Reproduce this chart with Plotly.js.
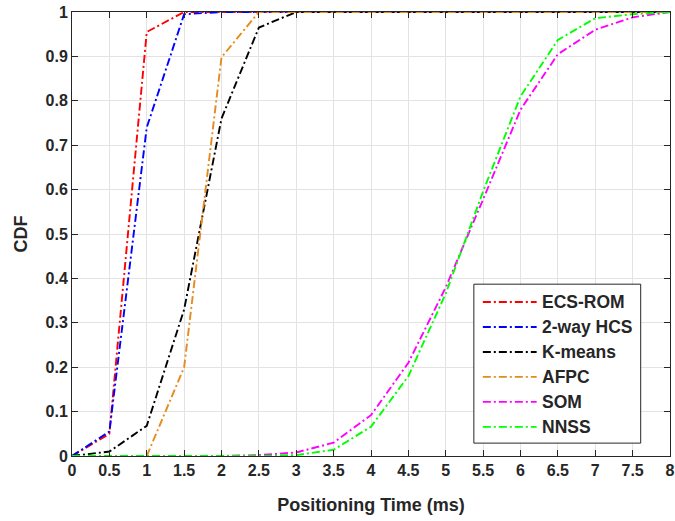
<!DOCTYPE html>
<html>
<head>
<meta charset="utf-8">
<script src="https://cdn.plot.ly/plotly-3.0.1.min.js"></script>
<style>
  html, body { margin: 0; padding: 0; background: #fff; }
  #chart { width: 675px; height: 521px; }
</style>
</head>
<body>
<div id="chart"></div>
<script>
// Positioning time samples (ms) and CDF values for each method
const timeCoarse = [0, 0.5, 1, 1.5, 2, 2.5, 3, 3.5, 4, 4.5, 5, 5.5, 6, 6.5, 7, 7.5, 8];

const ecsRom   = [0, 0.05, 0.955, 1, 1, 1, 1, 1, 1, 1, 1, 1, 1, 1, 1, 1, 1];
const twoWay   = [0, 0.055, 0.74, 0.995, 1, 1, 1, 1, 1, 1, 1, 1, 1, 1, 1, 1, 1];
const kMeans   = [0, 0.01, 0.068, 0.33, 0.76, 0.965, 1, 1, 1, 1, 1, 1, 1, 1, 1, 1, 1];
const afpcX    = [1, 1.5, 2, 2.5, 3, 3.5, 4, 4.5, 5, 5.5, 6, 6.5, 7, 7.5, 8];
const afpc     = [0, 0.2, 0.898, 1, 1, 1, 1, 1, 1, 1, 1, 1, 1, 1, 1];
const som      = [0, 0, 0, 0, 0, 0.002, 0.008, 0.03, 0.092, 0.21, 0.38, 0.578, 0.78, 0.905, 0.96, 0.988, 1];
const nnss     = [0, 0, 0, 0, 0, 0, 0.002, 0.014, 0.066, 0.18, 0.366, 0.596, 0.81, 0.937, 0.986, 0.995, 1];

const seriesNames  = ['ECS-ROM', '2-way HCS', 'K-means', 'AFPC', 'SOM', 'NNSS'];
const seriesColors = ['#ff0000', '#0000ff', '#000000', '#e68a1a', '#ff00ff', '#00ff00'];
const seriesX = [timeCoarse, timeCoarse, timeCoarse, afpcX, timeCoarse, timeCoarse];
const seriesY = [ecsRom, twoWay, kMeans, afpc, som, nnss];

const xTicks = [0, 0.5, 1, 1.5, 2, 2.5, 3, 3.5, 4, 4.5, 5, 5.5, 6, 6.5, 7, 7.5, 8];
const yTicks = [0, 0.1, 0.2, 0.3, 0.4, 0.5, 0.6, 0.7, 0.8, 0.9, 1];

const dashDot = '8px,3px,2px,3px';
const lineWidth = 1.9;
const textColor = '#262626';
const fontFam = '"Liberation Sans", Arial, sans-serif';

const traces = seriesNames.map((name, i) => ({
  type: 'scatter',
  mode: 'lines',
  name: name,
  x: seriesX[i],
  y: seriesY[i],
  line: { color: seriesColors[i], width: lineWidth, dash: dashDot },
  showlegend: false
}));

const axisCommon = {
  showline: true,
  linecolor: '#262626',
  linewidth: 1,
  mirror: 'ticks',
  ticks: 'inside',
  ticklen: 6,
  tickwidth: 1,
  tickcolor: '#262626',
  showgrid: true,
  gridcolor: '#e3e3e3',
  gridwidth: 1,
  zeroline: false,
  tickfont: { family: fontFam, size: 16, color: textColor, weight: 'bold' }
};

// Legend box drawn in paper coordinates (lower right of the axes)
const legendBox = { x0: 0.672, x1: 0.951, y0: 0.029, y1: 0.387 };
const legendRowTop = 0.347;     // centre of first entry
const legendRowStep = 0.0563;   // distance between entries
const legendLineX = [0.687, 0.777];
const legendTextX = 0.783;

const shapes = [{
  type: 'rect', xref: 'paper', yref: 'paper',
  x0: legendBox.x0, x1: legendBox.x1, y0: legendBox.y0, y1: legendBox.y1,
  line: { color: '#262626', width: 1 }, fillcolor: '#ffffff', layer: 'above'
}];
const annotations = [];
seriesNames.forEach((name, i) => {
  const yc = legendRowTop - i * legendRowStep;
  shapes.push({
    type: 'line', xref: 'paper', yref: 'paper',
    x0: legendLineX[0], x1: legendLineX[1], y0: yc, y1: yc,
    line: { color: seriesColors[i], width: lineWidth, dash: dashDot }, layer: 'above'
  });
  annotations.push({
    xref: 'paper', yref: 'paper', x: legendTextX, y: yc,
    xanchor: 'left', yanchor: 'middle', showarrow: false, text: name,
    font: { family: fontFam, size: 17.5, color: textColor, weight: 'bold' }
  });
});

const layout = {
  width: 675,
  height: 521,
  margin: { l: 72, r: 5, t: 12, b: 65 },
  paper_bgcolor: '#ffffff',
  plot_bgcolor: '#ffffff',
  showlegend: false,
  xaxis: Object.assign({}, axisCommon, {
    range: [0, 8],
    tickvals: xTicks,
    ticktext: xTicks.map(v => String(v)),
    title: { text: 'Positioning Time (ms)', font: { family: fontFam, size: 18, color: textColor, weight: 'bold' }, standoff: 20 }
  }),
  yaxis: Object.assign({}, axisCommon, {
    range: [0, 1],
    tickvals: yTicks,
    ticktext: yTicks.map(v => String(v)),
    title: { text: 'CDF', font: { family: fontFam, size: 18, color: textColor, weight: 'bold' }, standoff: 13 }
  }),
  shapes: shapes,
  annotations: annotations
};

Plotly.newPlot('chart', traces, layout, { displayModeBar: false, staticPlot: true });
</script>
</body>
</html>
